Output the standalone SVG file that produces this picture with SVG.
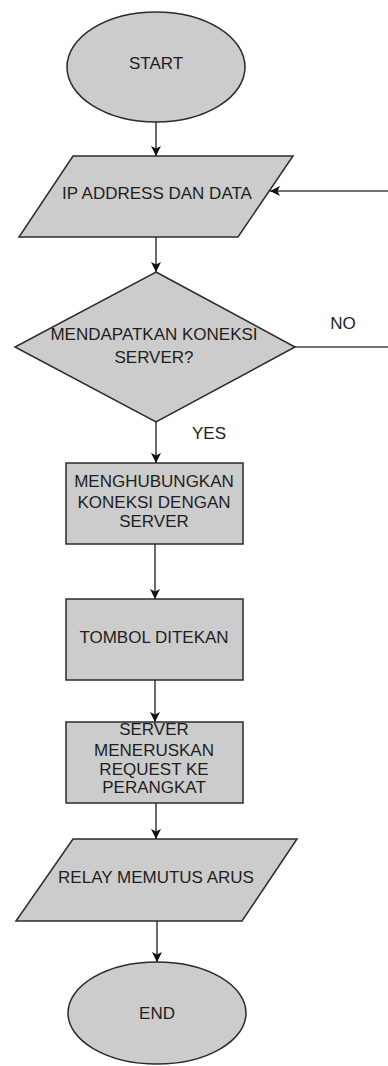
<svg xmlns="http://www.w3.org/2000/svg" width="388" height="1066" viewBox="0 0 388 1066">
<defs>
<style>
.shape{fill:#cccccc;stroke:#2b2b2b;stroke-width:1.5}
.t{font-family:"Liberation Sans",Arial,sans-serif;font-size:17px;fill:#1e1e1e;text-anchor:middle}
.c{fill:none;stroke:#444444;stroke-width:1.6}
</style>
<marker id="ah" viewBox="0 0 10 10" refX="10" refY="5" markerWidth="10" markerHeight="10" markerUnits="userSpaceOnUse" orient="auto">
<path d="M0,0 L10,5 L0,10 L2.5,5 Z" fill="#111111"/>
</marker>
</defs>
<rect width="388" height="1066" fill="#ffffff"/>
<g id="connectors">
<line class="c" x1="156" y1="122" x2="156" y2="156" marker-end="url(#ah)"/>
<line class="c" x1="156" y1="237" x2="156" y2="272" marker-end="url(#ah)"/>
<line class="c" x1="388" y1="191" x2="270" y2="191" marker-end="url(#ah)"/>
<line class="c" x1="295" y1="347" x2="388" y2="347"/>
<line class="c" x1="156" y1="422" x2="156" y2="463" marker-end="url(#ah)"/>
<line class="c" x1="155" y1="544" x2="155" y2="599" marker-end="url(#ah)"/>
<line class="c" x1="155" y1="680" x2="155" y2="722" marker-end="url(#ah)"/>
<line class="c" x1="156" y1="803" x2="156" y2="839" marker-end="url(#ah)"/>
<line class="c" x1="157" y1="921" x2="157" y2="962" marker-end="url(#ah)"/>
<text class="t" x="343" y="329">NO</text>
<text class="t" x="209" y="439">YES</text>
</g>
<g id="start">
<ellipse class="shape" cx="156" cy="67" rx="89" ry="55"/>
<text class="t" x="156" y="69">START</text>
</g>
<g id="input">
<polygon class="shape" points="73,156 293,156 238,237 19,237"/>
<text class="t" x="157" y="199">IP ADDRESS DAN DATA</text>
</g>
<g id="decision">
<polygon class="shape" points="156,272 295,347 156,422 15,347"/>
<text class="t" x="154" y="340">MENDAPATKAN KONEKSI</text>
<text class="t" x="154" y="363">SERVER?</text>
</g>
<g id="connect">
<rect class="shape" x="66" y="463" width="177" height="81"/>
<text class="t" x="154" y="487">MENGHUBUNGKAN</text>
<text class="t" x="154" y="508">KONEKSI DENGAN</text>
<text class="t" x="154" y="527">SERVER</text>
</g>
<g id="button">
<rect class="shape" x="66" y="599" width="177" height="81"/>
<text class="t" x="154" y="643">TOMBOL DITEKAN</text>
</g>
<g id="forward">
<rect class="shape" x="66" y="722" width="177" height="81"/>
<text class="t" x="154" y="735">SERVER</text>
<text class="t" x="154" y="756">MENERUSKAN</text>
<text class="t" x="154" y="775">REQUEST KE</text>
<text class="t" x="154" y="793">PERANGKAT</text>
</g>
<g id="relay">
<polygon class="shape" points="73,839 297,839 242,921 16,921"/>
<text class="t" x="156" y="883">RELAY MEMUTUS ARUS</text>
</g>
<g id="end">
<ellipse class="shape" cx="157" cy="1013" rx="89" ry="51"/>
<text class="t" x="157" y="1019">END</text>
</g>
</svg>
